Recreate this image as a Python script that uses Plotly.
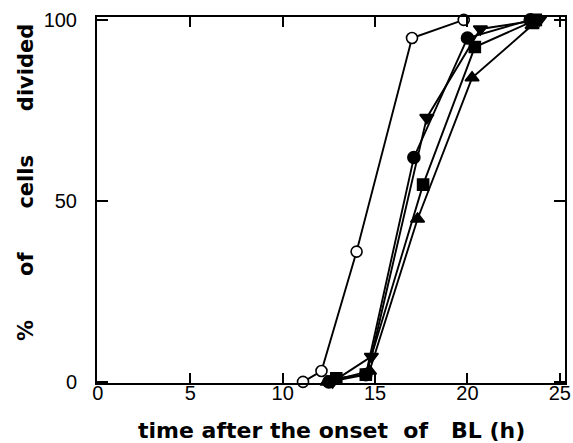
import plotly.graph_objects as go

# Time after onset of BL (h) and % of cells divided for each series
open_circle_x = [11.1, 12.1, 14.0, 17.0, 19.8]
open_circle_y = [0, 3, 36, 95, 100]
filled_circle_x = [12.5, 14.5, 17.1, 20.0, 23.4]
filled_circle_y = [0, 2, 62, 95, 100]
square_x = [12.9, 14.5, 17.6, 20.4, 23.7]
square_y = [1, 2, 54.5, 92.5, 100]
tri_up_x = [12.4, 14.7, 17.3, 20.25, 23.5]
tri_up_y = [0, 3, 45, 84, 98.5]
tri_down_x = [12.7, 14.8, 17.8, 20.7, 23.9]
tri_down_y = [0, 7, 73, 97.5, 100]

x_ticks = [0, 5, 10, 15, 20, 25]
y_ticks = [0, 50, 100]

nb = "\u00a0"
x_title = f"time after the onset{nb} of{nb}{nb} BL (h)"
y_title = f"%{nb*5} of{nb*5} cells{nb*5} divided"

fig = go.Figure()

series = [
    (tri_up_x, tri_up_y, "triangle-up", "black", 12),
    (square_x, square_y, "square", "black", 11),
    (tri_down_x, tri_down_y, "triangle-down", "black", 12),
    (filled_circle_x, filled_circle_y, "circle", "black", 12),
    (open_circle_x, open_circle_y, "circle", "white", 11),
]
for xs, ys, sym, fill, sz in series:
    fig.add_trace(go.Scatter(
        x=xs, y=ys, mode="lines+markers",
        line=dict(color="black", width=1.9),
        marker=dict(symbol=sym, size=sz, color=fill,
                    line=dict(color="black", width=1.6)),
        cliponaxis=False, showlegend=False,
    ))

font = "Liberation Sans, Arial, Helvetica, sans-serif"
title_font = "DejaVu Sans, sans-serif"
fig.update_layout(
    width=573, height=443,
    margin=dict(l=97, r=8, t=17, b=60, autoexpand=False),
    paper_bgcolor="white", plot_bgcolor="white",
    font=dict(family=font, size=20, color="black"),
    annotations=[
        dict(text=f"<b>{x_title}</b>", xref="paper", yref="paper",
             x=0.502, y=-0.131, xanchor="center", yanchor="middle",
             showarrow=False, font=dict(family=title_font, size=22)),
        dict(text=f"<b>{y_title}</b>", xref="paper", yref="paper",
             x=-0.152, y=0.549, xanchor="center", yanchor="middle",
             textangle=-90, showarrow=False,
             font=dict(family=title_font, size=21)),
    ],
)
fig.update_xaxes(
    range=[-0.05, 25.28], tickvals=x_ticks, ticks="inside", ticklen=10,
    tickwidth=1.5, tickcolor="black", showline=True, linecolor="black",
    linewidth=2, mirror="allticks", showgrid=False, zeroline=False,
    automargin=False, ticklabelstandoff=-9,
)
fig.update_yaxes(
    range=[-0.3, 100.8], tickvals=y_ticks, ticks="inside", ticklen=11,
    tickwidth=1.5, tickcolor="black", showline=True, linecolor="black",
    linewidth=2, mirror="allticks", showgrid=False, zeroline=False,
    automargin=False, ticklabelstandoff=14,
)

fig.write_html(
    "out.html",
    config={"displayModeBar": False},
    post_script="document.body.style.margin='0px';document.body.style.overflow='hidden';",
)
